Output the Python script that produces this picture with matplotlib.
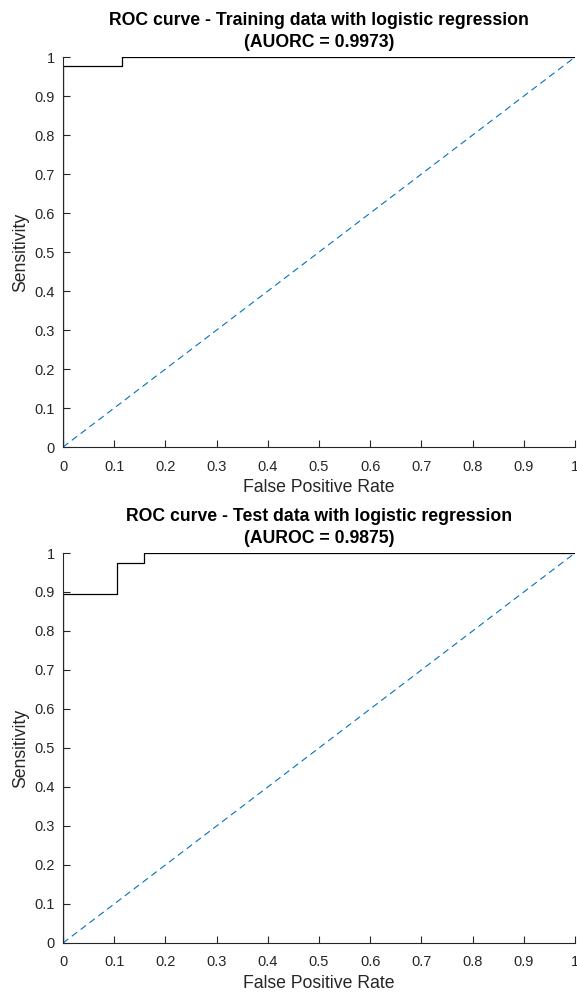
import numpy as np
import matplotlib.pyplot as plt

plt.rcParams['font.family'] = ['Liberation Sans', 'DejaVu Sans']

# ROC points (false positive rate, sensitivity)
train_fpr = [0, 0, 0.115, 0.115, 1]
train_tpr = [0, 0.9767, 0.9767, 1, 1]
test_fpr = [0, 0, 0.1053, 0.1053, 0.1579, 0.1579, 1]
test_tpr = [0, 0.8947, 0.8947, 0.9737, 0.9737, 1, 1]

titles = ['ROC curve - Training data with logistic regression\n(AUORC = 0.9973)',
          'ROC curve - Test data with logistic regression\n(AUROC = 0.9875)']
ticks = np.round(np.arange(0, 1.01, 0.1), 1)
tick_labels = ['0'] + ['%.1f' % t for t in ticks[1:-1]] + ['1']

fig = plt.figure(figsize=(5.77, 9.93), dpi=100)
axes = [fig.add_axes([0.1092, 0.5498, 0.8873, 0.3927]),
        fig.add_axes([0.1092, 0.0504, 0.8873, 0.3927])]
data = [(train_fpr, train_tpr), (test_fpr, test_tpr)]

gray = '#262626'
for ax, (fpr, tpr), title in zip(axes, data, titles):
    ax.plot(fpr, tpr, color='black', lw=0.9)
    ax.plot([0, 1], [0, 1], color='#0072BD', lw=0.8, ls=(0, (6, 4)))
    ax.set_xlim(0, 1)
    ax.set_ylim(0, 1)
    ax.set_xticks(ticks)
    ax.set_yticks(ticks)
    ax.set_xticklabels(tick_labels)
    ax.set_yticklabels(tick_labels)
    ax.spines['top'].set_visible(False)
    ax.spines['right'].set_visible(False)
    for s in ['left', 'bottom']:
        ax.spines[s].set_color(gray)
        ax.spines[s].set_linewidth(0.8)
    ax.tick_params(direction='in', length=5, width=0.8, colors=gray,
                   labelsize=10.5)
    ax.tick_params(axis='x', pad=9)
    ax.tick_params(axis='y', pad=6)
    ax.set_xlabel('False Positive Rate', fontsize=12.7, color=gray, labelpad=4)
    ax.set_ylabel('Sensitivity', fontsize=12.7, color=gray, labelpad=4)
    ax.set_title(title, fontsize=12.7, fontweight='bold', color='black',
                 pad=7.5, linespacing=1.35)
    for lab in ax.get_xticklabels() + ax.get_yticklabels():
        lab.set_clip_on(False)

fig.savefig('out.png', dpi=100)
